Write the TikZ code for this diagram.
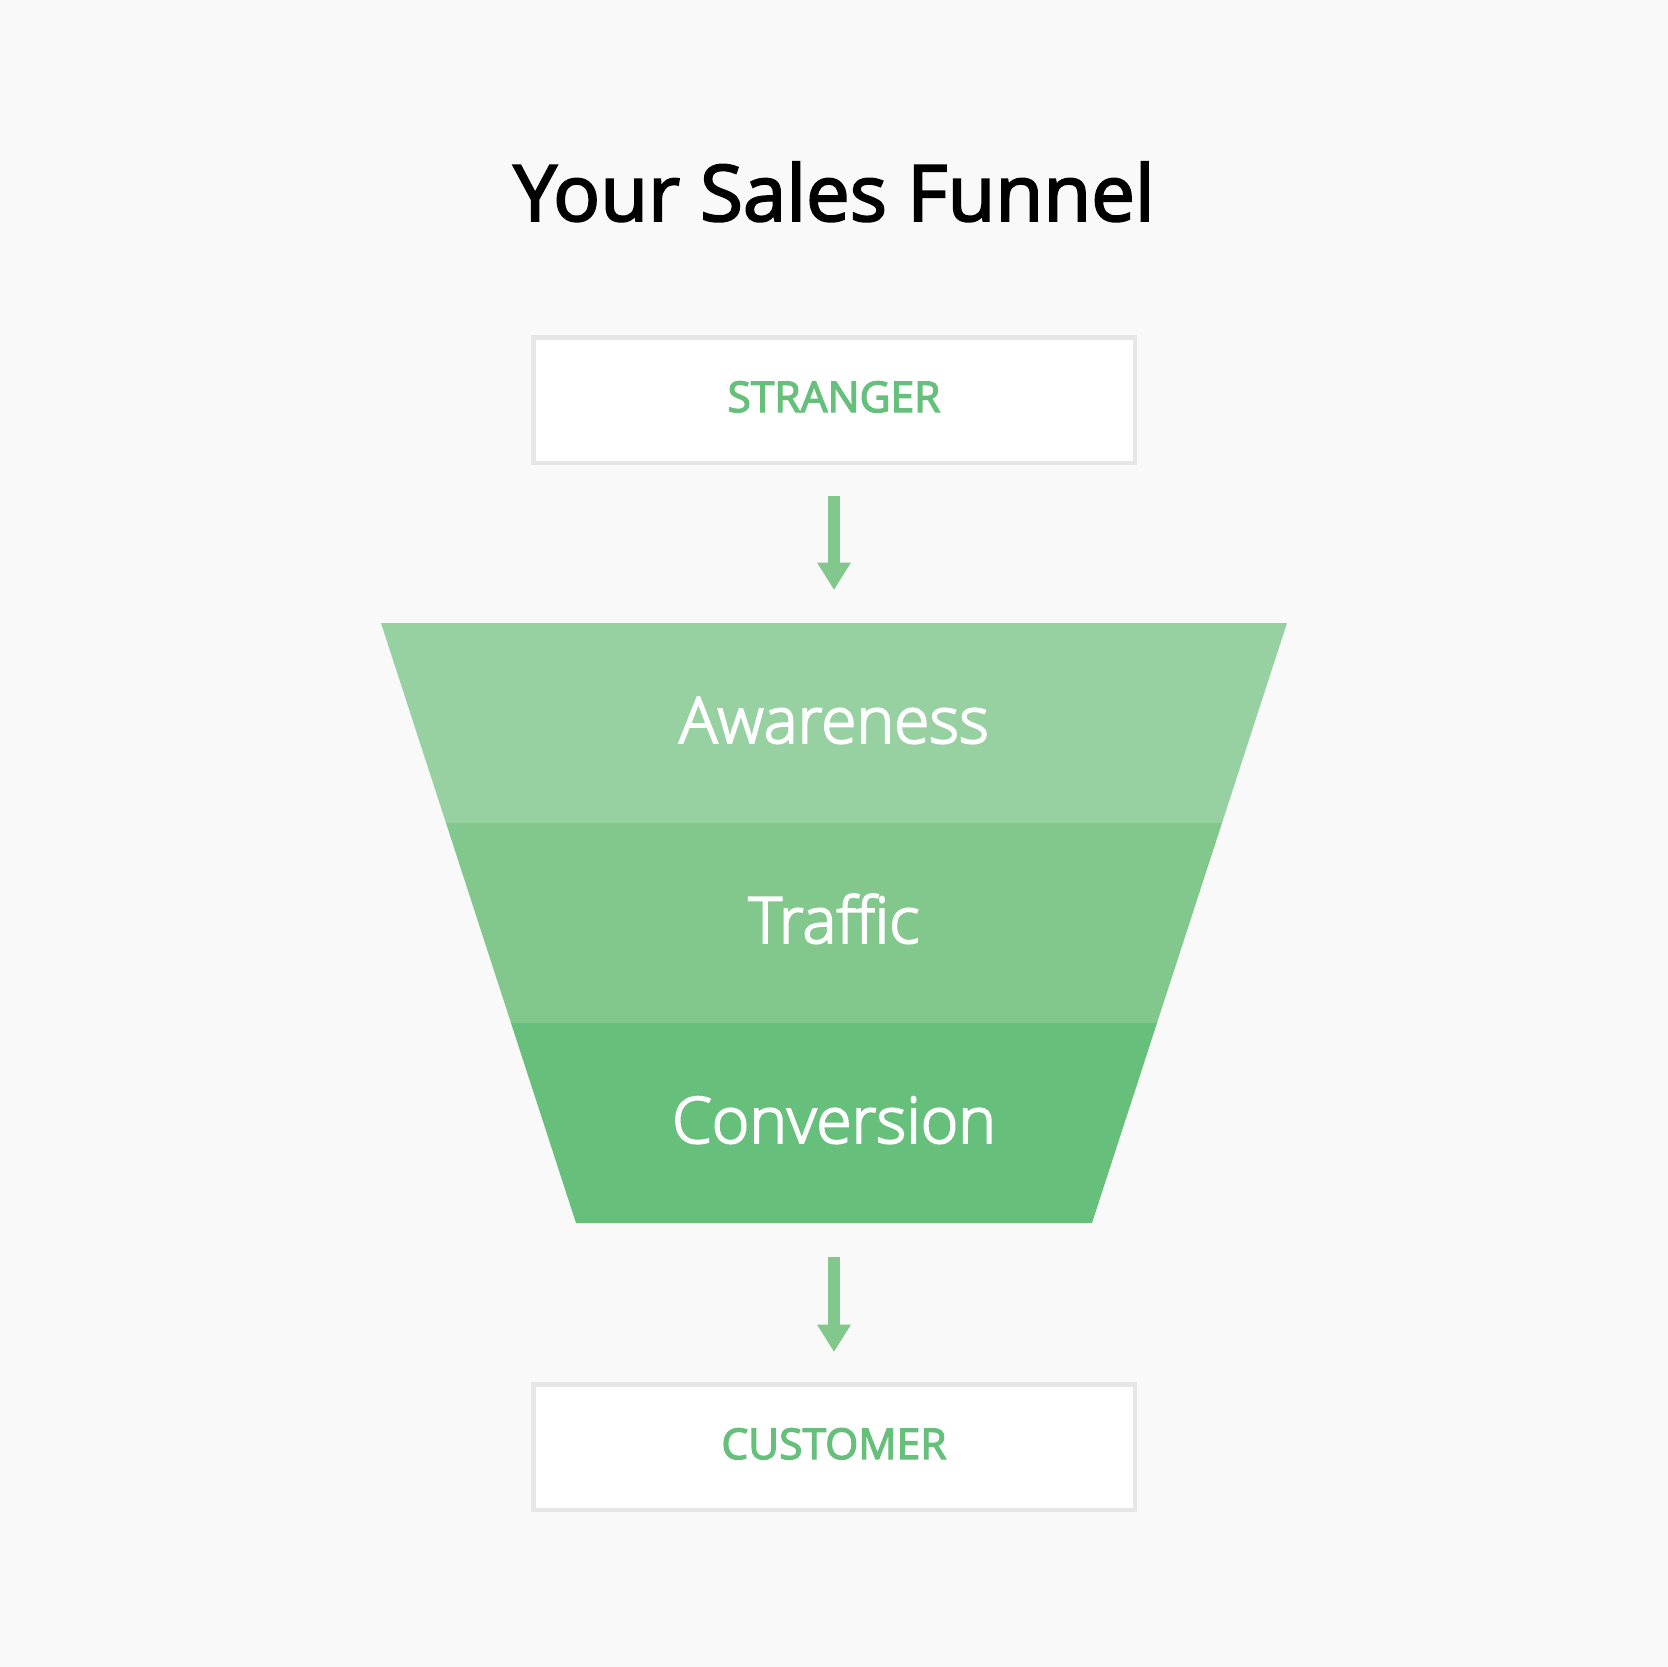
\documentclass[tikz,border=0pt]{standalone}
\usepackage{fontspec}
\setmainfont{Open Sans}
\newfontfamily\titlefont{Open Sans}[FakeBold=2.5]
\newfontfamily\semifont{Open Sans}[FakeBold=3]
\newfontfamily\lightfont{Open Sans Light}[FakeBold=3]
\usetikzlibrary{arrows.meta}
\definecolor{pagegray}{HTML}{F9F9F9}
\definecolor{boxline}{HTML}{E6E6E6}
\definecolor{stageA}{HTML}{97D1A1}
\definecolor{stageB}{HTML}{82C88D}
\definecolor{stageC}{HTML}{66BF7A}
\begin{document}
\begin{tikzpicture}[x=1pt,y=-1pt,
  endbox/.style={draw=boxline,line width=4.5pt,fill=white,minimum width=601.5pt,minimum height=125.5pt,inner sep=0pt},
  endtext/.style={anchor=base,text=stageC,font=\semifont\fontsize{42.5}{50}\selectfont},
  stagetext/.style={anchor=base,text=white,font=\lightfont\fontsize{64}{76}\selectfont},
  flowarrow/.style={draw=stageB,line width=12.7pt,-{Triangle[width=32pt,length=27.5pt]}}]
\fill[pagegray] (0,0) rectangle (1668,1667);
\node[anchor=base,font=\titlefont\fontsize{78}{92}\selectfont] (title) at (834,221) {Your Sales Funnel};
\node[endbox] (stranger) at (834,400) {};
\node[endtext] (strangertext) at (834,412) {STRANGER};
\coordinate (ftop) at (834,623);
\coordinate (fbot) at (834,1223);
\fill[stageA] (381,623) -- (1287,623) -- (1222,823) -- (446,823) -- cycle;
\fill[stageB] (446,823) -- (1222,823) -- (1157,1023) -- (511,1023) -- cycle;
\fill[stageC] (511,1023) -- (1157,1023) -- (1092,1223) -- (576,1223) -- cycle;
\node[stagetext] (awareness) at (834,743) {Awareness};
\node[stagetext] (traffic) at (834,943) {Traffic};
\node[stagetext] (conversion) at (834,1143) {Conversion};
\node[endbox] (customer) at (834,1447) {};
\node[endtext] (customertext) at (834,1459) {CUSTOMER};
\draw[flowarrow,shorten <=31pt,shorten >=33pt] (stranger.south) -- (ftop);
\draw[flowarrow,shorten <=34pt,shorten >=30pt] (fbot) -- (customer.north);
\end{tikzpicture}
\end{document}
